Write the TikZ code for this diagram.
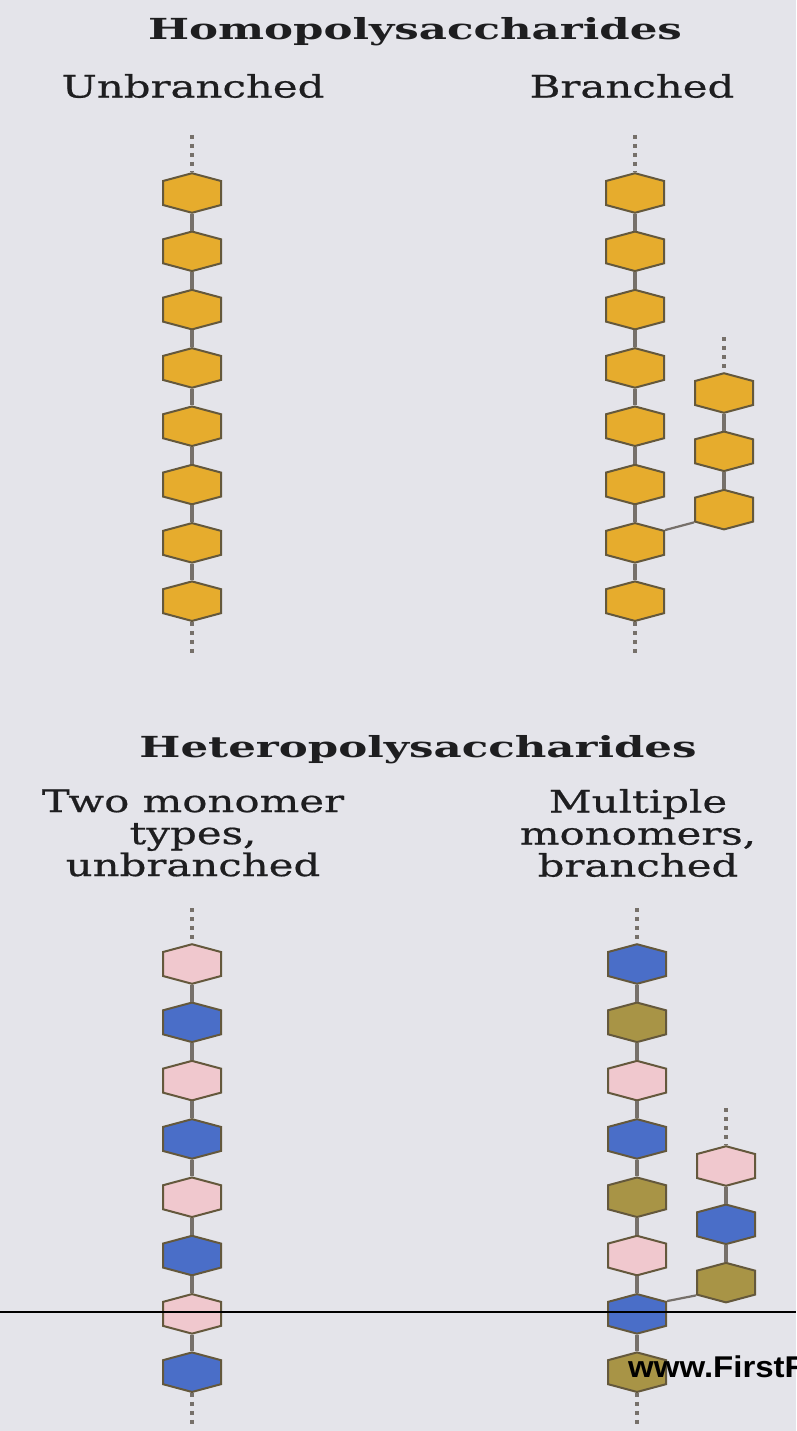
\documentclass[tikz,border=0pt]{standalone}
\usepackage{fontspec}
\setmainfont{DejaVu Serif}[FakeStretch=1.35, FakeBold=0.6]
\newfontfamily\headfont{DejaVu Serif}[FakeStretch=1.5]
\newfontfamily\webfont{Liberation Sans}[FakeStretch=1.1]
\usetikzlibrary{shapes.symbols, positioning}
\definecolor{paper}{RGB}{228, 228, 234}
\definecolor{inkgray}{RGB}{30, 30, 32}
\definecolor{hexline}{RGB}{100, 88, 60}
\definecolor{linkgray}{RGB}{118, 112, 106}
\definecolor{goldhex}{RGB}{230, 172, 45}
\definecolor{pinkhex}{RGB}{240, 200, 206}
\definecolor{bluehex}{RGB}{74, 110, 200}
\definecolor{olivehex}{RGB}{168, 148, 70}
\tikzset{
  sugar/.style={signal, signal to=north and south, signal pointer angle=150,
              draw=hexline, line width=2pt, minimum width=58pt,
              minimum height=24pt, inner sep=0pt},
  glc/.style={sugar, fill=goldhex},
  pinkunit/.style={sugar, fill=pinkhex},
  blueunit/.style={sugar, fill=bluehex},
  oliveunit/.style={sugar, fill=olivehex},
  link/.style={draw=linkgray, line width=3.5pt},
  chainend/.style={draw=linkgray, line width=3.5pt, dash pattern=on 4pt off 5pt},
  heading/.style={text=inkgray, font=\headfont\bfseries\fontsize{29}{32}\selectfont},
  subhead/.style={text=inkgray, font=\fontsize{31}{32}\selectfont, align=center},
}

\begin{document}
\begin{tikzpicture}[x=1pt, y=-1pt, node distance=16.7pt]
  \fill[paper] (0,0) rectangle (796,1431);
  \useasboundingbox (0,0) rectangle (796,1431);

  % headings
  \node[heading] (homo) at (415,32) {Homopolysaccharides};
  \node[subhead] (unbr) at (193,86) {Unbranched};
  \node[subhead] (br) at (632,86) {Branched};
  \node[heading] (hetero) at (418,750) {Heteropolysaccharides};
  \node[subhead] (twotype) at (193,833) {Two monomer\\types,\\unbranched};
  \node[subhead] (multi) at (638,833) {Multiple\\monomers,\\branched};

  % unbranched homopolymer
  \node[glc] (u1) at (192,193) {};
  \node[glc, below=of u1] (u2) {};
  \node[glc, below=of u2] (u3) {};
  \node[glc, below=of u3] (u4) {};
  \node[glc, below=of u4] (u5) {};
  \node[glc, below=of u5] (u6) {};
  \node[glc, below=of u6] (u7) {};
  \node[glc, below=of u7] (u8) {};
  \coordinate (utop) at (192,135);
  \coordinate (ubot) at (192,656);

  % branched homopolymer
  \node[glc] (b1) at (635,193) {};
  \node[glc, below=of b1] (b2) {};
  \node[glc, below=of b2] (b3) {};
  \node[glc, below=of b3] (b4) {};
  \node[glc, below=of b4] (b5) {};
  \node[glc, below=of b5] (b6) {};
  \node[glc, below=of b6] (b7) {};
  \node[glc, below=of b7] (b8) {};
  \node[glc] (c1) at (724,393) {};
  \node[glc, below=of c1] (c2) {};
  \node[glc, below=of c2] (c3) {};
  \coordinate (btop) at (635,135);
  \coordinate (bbot) at (635,656);
  \coordinate (ctop) at (724,337);

  % two monomer types, unbranched
  \node[pinkunit] (t1) at (192,964) {};
  \node[blueunit, below=of t1] (t2) {};
  \node[pinkunit, below=of t2] (t3) {};
  \node[blueunit, below=of t3] (t4) {};
  \node[pinkunit, below=of t4] (t5) {};
  \node[blueunit, below=of t5] (t6) {};
  \node[pinkunit, below=of t6] (t7) {};
  \node[blueunit, below=of t7] (t8) {};
  \coordinate (ttop) at (192,908);
  \coordinate (tbot) at (192,1428);

  % multiple monomers, branched
  \node[blueunit] (m1) at (637,964) {};
  \node[oliveunit, below=of m1] (m2) {};
  \node[pinkunit, below=of m2] (m3) {};
  \node[blueunit, below=of m3] (m4) {};
  \node[oliveunit, below=of m4] (m5) {};
  \node[pinkunit, below=of m5] (m6) {};
  \node[blueunit, below=of m6] (m7) {};
  \node[oliveunit, below=of m7] (m8) {};
  \node[pinkunit] (n1) at (726,1166) {};
  \node[blueunit, below=of n1] (n2) {};
  \node[oliveunit, below=of n2] (n3) {};
  \coordinate (mtop) at (637,908);
  \coordinate (mbot) at (637,1428);
  \coordinate (ntop) at (726,1108);

  % glycosidic links
  \draw[link] (u1.south) -- (u2.north) (u2.south) -- (u3.north) (u3.south) -- (u4.north)
    (u4.south) -- (u5.north) (u5.south) -- (u6.north) (u6.south) -- (u7.north) (u7.south) -- (u8.north);
  \draw[link] (b1.south) -- (b2.north) (b2.south) -- (b3.north) (b3.south) -- (b4.north)
    (b4.south) -- (b5.north) (b5.south) -- (b6.north) (b6.south) -- (b7.north) (b7.south) -- (b8.north);
  \draw[link] (c1.south) -- (c2.north) (c2.south) -- (c3.north);
  \draw[link] (t1.south) -- (t2.north) (t2.south) -- (t3.north) (t3.south) -- (t4.north)
    (t4.south) -- (t5.north) (t5.south) -- (t6.north) (t6.south) -- (t7.north) (t7.south) -- (t8.north);
  \draw[link] (m1.south) -- (m2.north) (m2.south) -- (m3.north) (m3.south) -- (m4.north)
    (m4.south) -- (m5.north) (m5.south) -- (m6.north) (m6.south) -- (m7.north) (m7.south) -- (m8.north);
  \draw[link] (n1.south) -- (n2.north) (n2.south) -- (n3.north);
  \draw[link, line width=2.2pt] (b7.north east) -- (c3.south west);
  \draw[link, line width=2.2pt] (m7.north east) -- (n3.south west);

  % chain continues
  \draw[chainend] (utop) -- (u1.north);
  \draw[chainend] (u8.south) -- (ubot);
  \draw[chainend] (btop) -- (b1.north);
  \draw[chainend] (b8.south) -- (bbot);
  \draw[chainend] (ctop) -- (c1.north);
  \draw[chainend] (ttop) -- (t1.north);
  \draw[chainend] (t8.south) -- (tbot);
  \draw[chainend] (mtop) -- (m1.north);
  \draw[chainend] (m8.south) -- (mbot);
  \draw[chainend] (ntop) -- (n1.north);

  % page footer
  \coordinate (rulel) at (0,1312);
  \coordinate (ruler) at (796,1312);
  \draw[line width=2.6pt] (rulel) -- (ruler);
  \node[anchor=base west, inner sep=0pt, font=\webfont\bfseries\fontsize{30}{34}\selectfont] (site) at (628,1377) {www.FirstR};
\end{tikzpicture}
\end{document}
